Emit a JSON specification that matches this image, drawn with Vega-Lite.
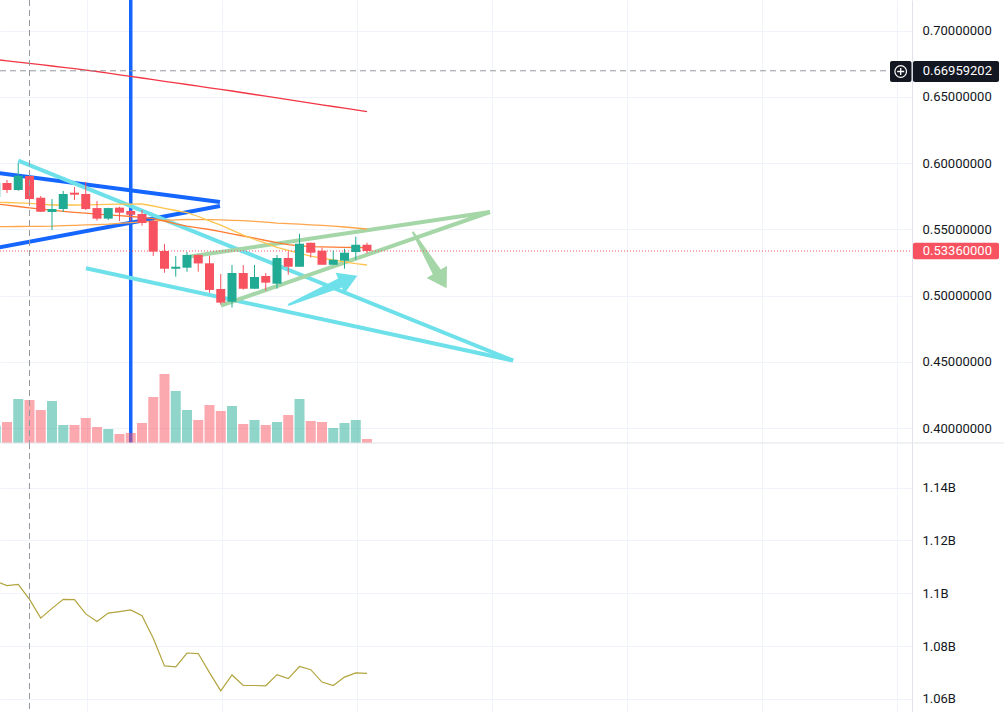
{
"$schema":"https://vega.github.io/schema/vega-lite/v6.json",
"padding":0,
"autosize":{"type":"pad"},
"background":"#ffffff",
"spacing":0,
"bounds":"flush",
"config":{"view":{"stroke":null},"scale":{"continuousPadding":0},"axis":{"labelFont":"Roboto","labelFontSize":13,"labelColor":"#131722"}},
"datasets":{
"candles":[
{"k":-1,"open":0.5743,"high":0.588,"low":0.572,"close":0.5849,"vol":17.3,"ma_fast":0.57042,"ma_mid":0.56921,"ma_slow":0.55185,"ma_long":0.67811,"osc":1104600000},
{"k":0,"open":0.5849,"high":0.5872,"low":0.5774,"close":0.5796,"vol":21,"ma_fast":0.57019,"ma_mid":0.56823,"ma_slow":0.552,"ma_long":0.67713,"osc":1102900000},
{"k":1,"open":0.5796,"high":0.6,"low":0.579,"close":0.5904,"vol":44,"ma_fast":0.56989,"ma_mid":0.56717,"ma_slow":0.55208,"ma_long":0.67615,"osc":1103400000},
{"k":2,"open":0.5902,"high":0.591,"low":0.57,"close":0.5728,"vol":43,"ma_fast":0.56959,"ma_mid":0.56611,"ma_slow":0.55215,"ma_long":0.67517,"osc":1097700000},
{"k":3,"open":0.5738,"high":0.5751,"low":0.563,"close":0.5632,"vol":33,"ma_fast":0.56891,"ma_mid":0.56521,"ma_slow":0.55223,"ma_long":0.67419,"osc":1090600000},
{"k":4,"open":0.563,"high":0.5728,"low":0.5494,"close":0.5653,"vol":42,"ma_fast":0.5683,"ma_mid":0.56445,"ma_slow":0.55238,"ma_long":0.67321,"osc":1094300000},
{"k":5,"open":0.5653,"high":0.5789,"low":0.563,"close":0.5766,"vol":18,"ma_fast":0.5683,"ma_mid":0.56355,"ma_slow":0.55276,"ma_long":0.67223,"osc":1097700000},
{"k":6,"open":0.5776,"high":0.5819,"low":0.5721,"close":0.5761,"vol":18,"ma_fast":0.5683,"ma_mid":0.56279,"ma_slow":0.55298,"ma_long":0.67125,"osc":1097600000},
{"k":7,"open":0.5766,"high":0.5857,"low":0.5645,"close":0.5653,"vol":25,"ma_fast":0.56838,"ma_mid":0.56211,"ma_slow":0.55328,"ma_long":0.67015,"osc":1092200000},
{"k":8,"open":0.566,"high":0.5713,"low":0.5565,"close":0.558,"vol":16,"ma_fast":0.5686,"ma_mid":0.56143,"ma_slow":0.55351,"ma_long":0.66906,"osc":1089300000},
{"k":9,"open":0.558,"high":0.5662,"low":0.557,"close":0.566,"vol":14,"ma_fast":0.56883,"ma_mid":0.56083,"ma_slow":0.55389,"ma_long":0.66781,"osc":1092500000},
{"k":10,"open":0.5663,"high":0.567,"low":0.5562,"close":0.5625,"vol":9,"ma_fast":0.56891,"ma_mid":0.56023,"ma_slow":0.55449,"ma_long":0.66657,"osc":1093100000},
{"k":11,"open":0.5638,"high":0.5645,"low":0.5562,"close":0.561,"vol":10,"ma_fast":0.56898,"ma_mid":0.55962,"ma_slow":0.55502,"ma_long":0.66536,"osc":1093700000},
{"k":12,"open":0.5615,"high":0.5645,"low":0.5527,"close":0.5547,"vol":20,"ma_fast":0.56906,"ma_mid":0.55894,"ma_slow":0.55562,"ma_long":0.66415,"osc":1091500000},
{"k":13,"open":0.5562,"high":0.557,"low":0.5298,"close":0.5331,"vol":46,"ma_fast":0.56755,"ma_mid":0.55796,"ma_slow":0.55615,"ma_long":0.66291,"osc":1083000000},
{"k":14,"open":0.5336,"high":0.5389,"low":0.5172,"close":0.5202,"vol":69,"ma_fast":0.56581,"ma_mid":0.55623,"ma_slow":0.55668,"ma_long":0.66166,"osc":1072500000},
{"k":15,"open":0.5202,"high":0.5298,"low":0.5142,"close":0.5217,"vol":52,"ma_fast":0.56415,"ma_mid":0.55404,"ma_slow":0.55713,"ma_long":0.66045,"osc":1072200000},
{"k":16,"open":0.521,"high":0.5328,"low":0.518,"close":0.5306,"vol":33,"ma_fast":0.56249,"ma_mid":0.55238,"ma_slow":0.55736,"ma_long":0.65925,"osc":1077400000},
{"k":17,"open":0.5306,"high":0.531,"low":0.518,"close":0.5242,"vol":23,"ma_fast":0.55962,"ma_mid":0.5511,"ma_slow":0.55728,"ma_long":0.658,"osc":1077200000},
{"k":18,"open":0.5243,"high":0.53,"low":0.5021,"close":0.5042,"vol":38,"ma_fast":0.55638,"ma_mid":0.54981,"ma_slow":0.55728,"ma_long":0.65676,"osc":1070000000},
{"k":19,"open":0.5049,"high":0.5162,"low":0.4931,"close":0.4946,"vol":32,"ma_fast":0.55313,"ma_mid":0.54823,"ma_slow":0.55706,"ma_long":0.65555,"osc":1063100000},
{"k":20,"open":0.4953,"high":0.523,"low":0.4909,"close":0.517,"vol":37,"ma_fast":0.54936,"ma_mid":0.54657,"ma_slow":0.55676,"ma_long":0.65434,"osc":1069100000},
{"k":21,"open":0.517,"high":0.523,"low":0.5044,"close":0.5051,"vol":19,"ma_fast":0.54559,"ma_mid":0.54491,"ma_slow":0.55645,"ma_long":0.65302,"osc":1065100000},
{"k":22,"open":0.5051,"high":0.523,"low":0.5051,"close":0.514,"vol":23,"ma_fast":0.54227,"ma_mid":0.54325,"ma_slow":0.556,"ma_long":0.6517,"osc":1065100000},
{"k":23,"open":0.5147,"high":0.517,"low":0.5036,"close":0.5097,"vol":18,"ma_fast":0.53947,"ma_mid":0.54151,"ma_slow":0.55532,"ma_long":0.65042,"osc":1065000000},
{"k":24,"open":0.5089,"high":0.5306,"low":0.5051,"close":0.5283,"vol":21,"ma_fast":0.53638,"ma_mid":0.53985,"ma_slow":0.55464,"ma_long":0.64913,"osc":1069200000},
{"k":25,"open":0.5283,"high":0.5331,"low":0.5157,"close":0.5217,"vol":28,"ma_fast":0.53404,"ma_mid":0.53842,"ma_slow":0.55419,"ma_long":0.64785,"osc":1067700000},
{"k":26,"open":0.5217,"high":0.5466,"low":0.5217,"close":0.5391,"vol":44,"ma_fast":0.53185,"ma_mid":0.53751,"ma_slow":0.55381,"ma_long":0.64657,"osc":1072300000},
{"k":27,"open":0.5398,"high":0.5398,"low":0.5288,"close":0.5323,"vol":22,"ma_fast":0.52974,"ma_mid":0.53691,"ma_slow":0.55336,"ma_long":0.64525,"osc":1071100000},
{"k":28,"open":0.5338,"high":0.5361,"low":0.5232,"close":0.5232,"vol":21,"ma_fast":0.52815,"ma_mid":0.53668,"ma_slow":0.55291,"ma_long":0.64393,"osc":1066400000},
{"k":29,"open":0.5232,"high":0.5338,"low":0.5232,"close":0.527,"vol":15,"ma_fast":0.52679,"ma_mid":0.53653,"ma_slow":0.5523,"ma_long":0.64264,"osc":1065100000},
{"k":30,"open":0.5263,"high":0.5353,"low":0.5202,"close":0.5323,"vol":20,"ma_fast":0.52536,"ma_mid":0.53638,"ma_slow":0.5517,"ma_long":0.64136,"osc":1068300000},
{"k":31,"open":0.5328,"high":0.5444,"low":0.527,"close":0.5383,"vol":23,"ma_fast":0.524,"ma_mid":0.53623,"ma_slow":0.55094,"ma_long":0.64004,"osc":1069900000},
{"k":32,"open":0.5383,"high":0.5398,"low":0.5318,"close":0.5336,"vol":4,"ma_fast":0.52302,"ma_mid":0.53608,"ma_slow":0.55019,"ma_long":0.63872,"osc":1069700000}
],
"blueLines":[{"id":"b1","k":-2,"price":0.59374},{"id":"b1","k":18.93,"price":0.57057},{"id":"b2","k":-2,"price":0.53419},{"id":"b2","k":18.93,"price":0.56755}],
"cyanLines":[{"id":"c1","k":1.0,"price":0.60174},{"id":"c1","k":44.98,"price":0.45094},{"id":"c2","k":7.02,"price":0.52053},{"id":"c2","k":44.98,"price":0.45094}],
"greenLines":[{"id":"g1","k":16.27,"price":0.52944},{"id":"g1","k":42.93,"price":0.56302},{"id":"g2","k":19.02,"price":0.49245},{"id":"g2","k":42.93,"price":0.56302}]
},
"vconcat":[
{
"width":912,"height":443,
"encoding":{"x":{"field":"k","type":"quantitative","scale":{"domain":[-0.6222,80.4444],"nice":false,"zero":false,"padding":0},"axis":{"values":[7.1,19.1,31.1,43.1,55.1,67.1,79.1],"labels":false,"ticks":false,"domain":false,"title":null,"grid":true,"gridColor":"#f0f3fa"}}},
"resolve":{"scale":{"y":"independent"}},
"layer":[
{"data":{"name":"candles"},"mark":{"type":"rule","strokeWidth":0,"opacity":0,"clip":true},"encoding":{"y":{"field":"low","type":"quantitative","scale":{"domain":[0.38868,0.72302],"nice":false,"zero":false},"axis":{"orient":"right","values":[0.4,0.45,0.5,0.55,0.6,0.65,0.7],"format":".8f","title":null,"ticks":false,"tickSize":0,"labelPadding":10,"labelAlign":"left","labelBaseline":"middle","labelFont":"Roboto","labelFontSize":13,"labelColor":"#131722","labelOverlap":false,"domain":true,"domainColor":"#e0e3eb","grid":true,"gridColor":"#f0f3fa"}},"y2":{"field":"high"}}},
{"data":{"name":"blueLines"},"mark":{"type":"line","color":"#1565ff","strokeWidth":4,"clip":true},"encoding":{"y":{"field":"price","type":"quantitative","scale":{"domain":[0.38868,0.72302],"nice":false,"zero":false},"axis":null},"detail":{"field":"id"}}},
{"data":{"values":[{"k":11}]},"mark":{"type":"rule","color":"#1565ff","strokeWidth":3.5,"clip":true},"encoding":{}},
{"data":{"name":"cyanLines"},"mark":{"type":"line","color":"#6ee0ea","strokeWidth":4,"clip":true},"encoding":{"y":{"field":"price","type":"quantitative","scale":{"domain":[0.38868,0.72302],"nice":false,"zero":false},"axis":null},"detail":{"field":"id"}}},
{"data":{"name":"greenLines"},"mark":{"type":"line","color":"#a5d6a7","strokeWidth":4,"clip":true},"encoding":{"y":{"field":"price","type":"quantitative","scale":{"domain":[0.38868,0.72302],"nice":false,"zero":false},"axis":null},"detail":{"field":"id"}}},
{"data":{"values":[{"k":28.07,"price":0.50385}]},"mark":{"type":"point","shape":"M0,-1L0.3,-0.5L0.13,-0.5L0.03,1L-0.03,1L-0.13,-0.5L-0.3,-0.5Z","size":5625,"angle":67,"filled":true,"fill":"#6ee0ea","opacity":1,"strokeWidth":0,"clip":true},"encoding":{"y":{"field":"price","type":"quantitative","scale":{"domain":[0.38868,0.72302],"nice":false,"zero":false},"axis":null}}},
{"data":{"values":[{"k":37.57,"price":0.52679}]},"mark":{"type":"point","shape":"M0,-1L0.36,-0.42L0.14,-0.42L0.03,1L-0.03,1L-0.14,-0.42L-0.36,-0.42Z","size":4356,"angle":149,"filled":true,"fill":"#a5d6a7","opacity":1,"strokeWidth":0,"clip":true},"encoding":{"y":{"field":"price","type":"quantitative","scale":{"domain":[0.38868,0.72302],"nice":false,"zero":false},"axis":null}}},
{"data":{"name":"candles"},"mark":{"type":"bar","orient":"vertical","size":10,"opacity":0.5,"clip":true},"encoding":{"y":{"field":"vol","type":"quantitative","scale":{"domain":[0,443],"nice":false,"zero":true},"axis":null},"color":{"condition":{"test":"datum.close >= datum.open","value":"#22ab94"},"value":"#f7525f"}}},
{"data":{"name":"candles"},"transform":[{"fold":["ma_long","ma_slow","ma_mid","ma_fast"],"as":["ma","value"]}],"mark":{"type":"line","strokeWidth":1.3,"clip":true},"encoding":{"y":{"field":"value","type":"quantitative","scale":{"domain":[0.38868,0.72302],"nice":false,"zero":false},"axis":null},"color":{"field":"ma","type":"nominal","scale":{"domain":["ma_long","ma_slow","ma_mid","ma_fast"],"range":["#f23645","#ffa64d","#ff7b33","#ffc44f"]},"legend":null}}},
{"data":{"values":[{"k":-0.6222,"k2":80.4444,"price":0.5336}]},"mark":{"type":"rule","color":"#f7525f","strokeDash":[1,2],"strokeWidth":1,"clip":true},"encoding":{"x2":{"field":"k2"},"y":{"field":"price","type":"quantitative","scale":{"domain":[0.38868,0.72302],"nice":false,"zero":false},"axis":null}}},
{"data":{"values":[{"k":-0.6222,"k2":78.3,"price":0.66959202}]},"mark":{"type":"rule","color":"#9598a1","strokeDash":[6,4],"strokeWidth":1,"clip":true},"encoding":{"x2":{"field":"k2"},"y":{"field":"price","type":"quantitative","scale":{"domain":[0.38868,0.72302],"nice":false,"zero":false},"axis":null}}},
{"data":{"name":"candles"},"mark":{"type":"rule","strokeWidth":1,"clip":true},"encoding":{"y":{"field":"low","type":"quantitative","scale":{"domain":[0.38868,0.72302],"nice":false,"zero":false},"axis":null},"y2":{"field":"high"},"color":{"condition":{"test":"datum.close >= datum.open","value":"#22ab94"},"value":"#f7525f"}}},
{"data":{"name":"candles"},"mark":{"type":"bar","orient":"vertical","size":9,"clip":true},"encoding":{"y":{"field":"open","type":"quantitative","scale":{"domain":[0.38868,0.72302],"nice":false,"zero":false},"axis":null},"y2":{"field":"close"},"color":{"condition":{"test":"datum.close >= datum.open","value":"#22ab94"},"value":"#f7525f"}}},
{"data":{"values":[{"k":2}]},"mark":{"type":"rule","color":"#9598a1","strokeDash":[6,4],"strokeWidth":1,"clip":true},"encoding":{}},
{"data":{"values":[{"k":-0.57,"k2":88.6,"price":0.38868}]},"mark":{"type":"rule","color":"#e0e3eb","strokeWidth":1,"clip":false},"encoding":{"x2":{"field":"k2"},"y":{"field":"price","type":"quantitative","scale":{"domain":[0.38868,0.72302],"nice":false,"zero":false},"axis":null}}},
{"data":{"values":[{"k":78.49,"k2":80.4,"p1":0.67698,"p2":0.66113},{"k":80.53,"k2":88.18,"p1":0.67698,"p2":0.66113}]},"mark":{"type":"rect","color":"#131722","cornerRadius":2,"clip":false},"encoding":{"x2":{"field":"k2"},"y":{"field":"p1","type":"quantitative","scale":{"domain":[0.38868,0.72302],"nice":false,"zero":false},"axis":null},"y2":{"field":"p2"}}},
{"data":{"values":[{"k":80.53,"k2":88.18,"p1":0.53985,"p2":0.52732}]},"mark":{"type":"rect","color":"#f7525f","cornerRadius":2,"clip":false},"encoding":{"x2":{"field":"k2"},"y":{"field":"p1","type":"quantitative","scale":{"domain":[0.38868,0.72302],"nice":false,"zero":false},"axis":null},"y2":{"field":"p2"}}},
{"data":{"values":[{"k":79.44,"price":0.66906}]},"mark":{"type":"point","shape":"circle","size":135,"filled":false,"stroke":"#ffffff","strokeWidth":1.2,"opacity":1,"clip":false},"encoding":{"y":{"field":"price","type":"quantitative","scale":{"domain":[0.38868,0.72302],"nice":false,"zero":false},"axis":null}}},
{"data":{"values":[{"k":79.44,"price":0.66906}]},"mark":{"type":"point","shape":"M-1,0L1,0M0,-1L0,1","size":49,"filled":false,"stroke":"#ffffff","strokeWidth":1.3,"opacity":1,"clip":false},"encoding":{"y":{"field":"price","type":"quantitative","scale":{"domain":[0.38868,0.72302],"nice":false,"zero":false},"axis":null}}},
{"data":{"values":[{"k":81.4,"price":0.66959202},{"k":81.4,"price":0.5336}]},"mark":{"type":"text","align":"left","baseline":"middle","color":"#ffffff","font":"Roboto","fontSize":13,"clip":false},"encoding":{"y":{"field":"price","type":"quantitative","scale":{"domain":[0.38868,0.72302],"nice":false,"zero":false},"axis":null},"text":{"field":"price","type":"quantitative","format":".8f"}}}
]
},
{
"width":912,"height":269,
"encoding":{"x":{"field":"k","type":"quantitative","scale":{"domain":[-0.6222,80.4444],"nice":false,"zero":false,"padding":0},"axis":{"values":[7.1,19.1,31.1,43.1,55.1,67.1,79.1],"labels":false,"ticks":false,"domain":false,"title":null,"grid":true,"gridColor":"#f0f3fa"}}},
"layer":[
{"data":{"name":"candles"},"mark":{"type":"line","color":"#b2a43e","strokeWidth":1.2,"clip":true},"encoding":{"y":{"field":"osc","type":"quantitative","scale":{"domain":[1055080000,1156880000],"nice":false,"zero":false},"axis":{"orient":"right","values":[1060000000,1080000000,1100000000,1120000000,1140000000],"labelExpr":"replace(format(datum.value, '.3~s'), 'G', 'B')","title":null,"ticks":false,"tickSize":0,"labelPadding":10,"labelAlign":"left","labelBaseline":"middle","labelFont":"Roboto","labelFontSize":13,"labelColor":"#131722","labelOverlap":false,"domain":true,"domainColor":"#e0e3eb","grid":true,"gridColor":"#f0f3fa"}}}},
{"data":{"values":[{"k":2}]},"mark":{"type":"rule","color":"#9598a1","strokeDash":[6,4],"strokeWidth":1,"clip":true},"encoding":{}}
]
}
]
}
